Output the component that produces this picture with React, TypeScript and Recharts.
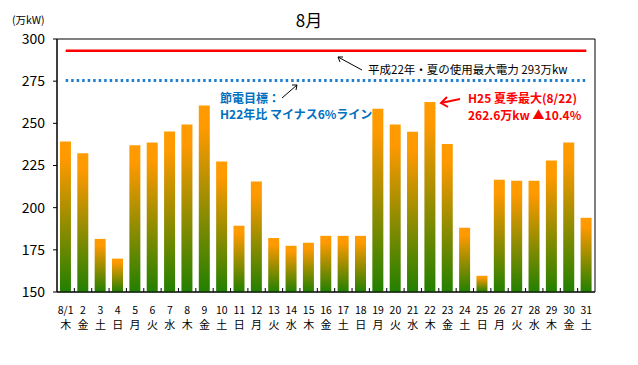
import { BarChart, Bar, XAxis, YAxis, ReferenceLine, ReferenceArea, Customized } from 'recharts'

const days = ['8/1', '2', '3', '4', '5', '6', '7', '8', '9', '10', '11', '12', '13', '14', '15', '16',
  '17', '18', '19', '20', '21', '22', '23', '24', '25', '26', '27', '28', '29', '30', '31']
const weekdays = ['木', '金', '土', '日', '月', '火', '水', '木', '金', '土', '日', '月', '火', '水', '木', '金',
  '土', '日', '月', '火', '水', '木', '金', '土', '日', '月', '火', '水', '木', '金', '土']
const power = [239.3, 232.2, 181.5, 169.8, 237, 238.6, 245.1, 249.3, 260.6, 227.3, 189.3, 215.5, 182, 177.4, 179.2, 183.3,
  183.3, 183.3, 258.6, 249.3, 245, 262.6, 237.8, 188.1, 159.6, 216.6, 216, 216, 228, 238.6, 194]
const yTicks = [150, 175, 200, 225, 250, 275, 300]
const peak2010 = 293
const targetLine = 275.4

const data = days.map((day, i) => ({ day, power: power[i] }))

const FONT = '"Noto Sans CJK JP", "Noto Sans", sans-serif'

function DayTick(props: any) {
  const { x, y, payload } = props
  const idx = payload.index
  const off = payload.offset || 0
  return (
    <g>
      {idx > 0 && <line x1={x - off} x2={x - off} y1={y} y2={y - 4} stroke="#000" />}
      <text x={x} y={y + 22} textAnchor="middle" fontSize={10.5} fontFamily={FONT} fill="#000">
        {payload.value}
      </text>
      <text x={x} y={y + 37} textAnchor="middle" fontSize={11} fontFamily={FONT} fill="#000">
        {weekdays[idx]}
      </text>
    </g>
  )
}

function Notes() {
  return (
    <g fontFamily={FONT}>
      <text x={301} y={19} textAnchor="middle" fontSize={17} fill="#000">8月</text>
      <text x={4} y={16} fontSize={10.5} fill="#000">(万kW)</text>

      <line x1={354} y1={62} x2={330} y2={49} stroke="#000" strokeWidth={1} />
      <polyline points="335,49 330,49 332,54" fill="none" stroke="#000" strokeWidth={1} />
      <text x={360} y={66} fontSize={11.5} fill="#000">平成22年・夏の使用最大電力 293万kw</text>

      <line x1={274} y1={90} x2={289} y2={77} stroke="#000" strokeWidth={1} />
      <polyline points="284,77 289,77 288,82" fill="none" stroke="#000" strokeWidth={1} />
      <text x={212} y={95} fontSize={12} fontWeight="bold" fill="#0070C0">節電目標：</text>
      <text x={212} y={111} fontSize={12} fontWeight="bold" fill="#0070C0">H22年比 マイナス6%ライン</text>

      <line x1={452} y1={91} x2={433} y2={95} stroke="#FF0000" strokeWidth={2} />
      <polyline points="439,89 433,95 440,99" fill="none" stroke="#FF0000" strokeWidth={2} />
      <text x={460} y={95} fontSize={12} fontWeight="bold" fill="#FF0000">H25 夏季最大(8/22)</text>
      <text x={460} y={112} fontSize={12} fontWeight="bold" fill="#FF0000">262.6万kw ▲10.4%</text>
    </g>
  )
}

export default function App() {
  return (
    <div style={{ width: 630, height: 340 }}>
      <BarChart width={630} height={340} data={data} margin={{ top: 31, right: 43, bottom: 0, left: 0 }}
        barCategoryGap="17%">
        <defs>
          <linearGradient id="barGrad" x1="0" y1="0" x2="0" y2="1">
            <stop offset="0" stopColor="#FF9C00" />
            <stop offset="0.12" stopColor="#FF9900" />
            <stop offset="1" stopColor="#228000" />
          </linearGradient>
        </defs>
        <XAxis dataKey="day" interval={0} axisLine={{ stroke: '#000' }} tickLine={false} tickSize={0}
          tickMargin={0} height={56} tick={<DayTick />} />
        <YAxis domain={[150, 300]} ticks={yTicks} width={49} axisLine={{ stroke: '#000' }}
          tickLine={{ stroke: '#000' }} tickSize={4} tickMargin={8}
          tick={{ fontSize: 14, fill: '#000', fontFamily: FONT }} />
        <ReferenceArea y1={150} y2={300} fill="none" stroke="#000" strokeWidth={1} fillOpacity={0} />
        <Bar dataKey="power" fill="url(#barGrad)" isAnimationActive={false} />
        <ReferenceLine segment={[{ x: '8/1', y: peak2010 }, { x: '31', y: peak2010 }]} stroke="#FF0000" strokeWidth={2.5} />
        <ReferenceLine segment={[{ x: '8/1', y: targetLine }, { x: '31', y: targetLine }]} stroke="#1E7FD0"
          strokeWidth={3} strokeDasharray="2.5 3" />
        <Customized component={Notes} />
      </BarChart>
    </div>
  )
}
